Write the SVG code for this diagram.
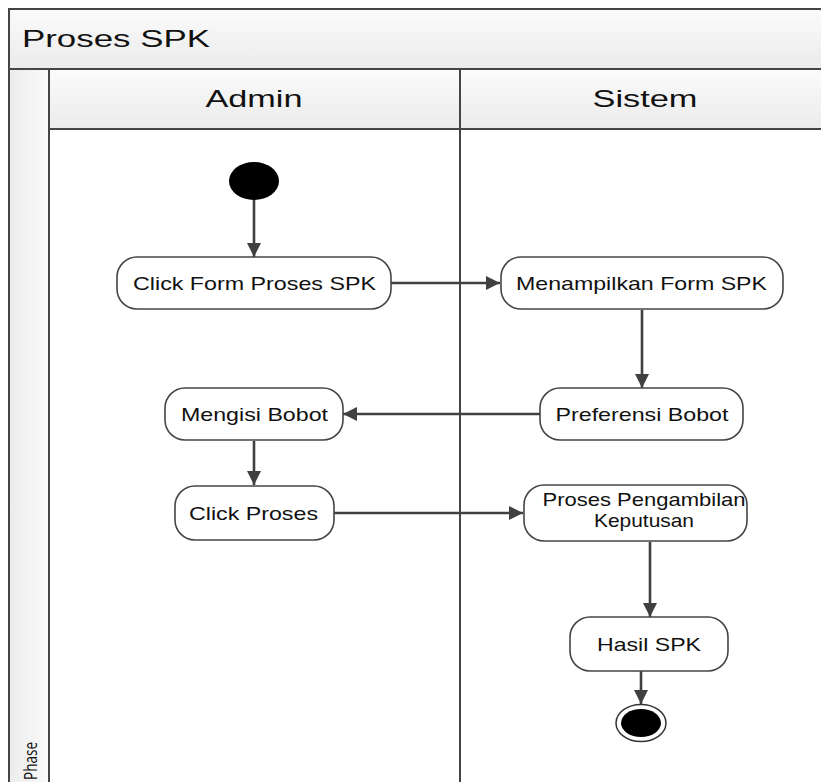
<svg xmlns="http://www.w3.org/2000/svg" width="821" height="782" viewBox="0 0 821 782">
  <defs>
    <linearGradient id="hdr" x1="0" y1="0" x2="0" y2="1">
      <stop offset="0" stop-color="#fbfbfb"/>
      <stop offset="1" stop-color="#ebebeb"/>
    </linearGradient>
    <linearGradient id="side" x1="0" y1="0" x2="1" y2="0">
      <stop offset="0" stop-color="#ececec"/>
      <stop offset="1" stop-color="#fafafa"/>
    </linearGradient>
    <marker id="arrow" viewBox="0 0 14 14" refX="14" refY="7" markerWidth="14" markerHeight="14" markerUnits="userSpaceOnUse" orient="auto">
      <path d="M0,0 L14,7 L0,14 z" fill="#404040"/>
    </marker>
  </defs>
  <style>
    .frame { stroke: #454545; stroke-width: 2; }
    .act { fill: #ffffff; stroke: #454545; stroke-width: 1.6; }
    .lbl { font-family: "Liberation Sans", Arial, sans-serif; font-size: 19px; fill: #111; text-anchor: middle; }
    .hd { font-family: "Liberation Sans", Arial, sans-serif; font-size: 24px; fill: #111; }
    .edge { fill: none; stroke: #404040; stroke-width: 2.6; marker-end: url(#arrow); }
  </style>

  <rect width="821" height="782" fill="#ffffff"/>

  <!-- swimlane pool -->
  <g id="pool">
    <rect x="9" y="9" width="830" height="60" fill="url(#hdr)" class="frame"/>
    <text x="22" y="47" class="hd" textLength="188" lengthAdjust="spacingAndGlyphs">Proses SPK</text>
    <rect x="9" y="69" width="40" height="730" fill="url(#side)" class="frame"/>
    <text transform="translate(37,780) rotate(-90)" font-family="Open Sans, sans-serif" font-size="18" fill="#111" textLength="38" lengthAdjust="spacingAndGlyphs">Phase</text>
    <rect x="49" y="69" width="411" height="60" fill="url(#hdr)" class="frame"/>
    <rect x="460" y="69" width="380" height="60" fill="url(#hdr)" class="frame"/>
    <text x="254" y="107" class="hd" text-anchor="middle" textLength="97" lengthAdjust="spacingAndGlyphs">Admin</text>
    <text x="645" y="107" class="hd" text-anchor="middle" textLength="105" lengthAdjust="spacingAndGlyphs">Sistem</text>
    <rect x="49" y="129" width="411" height="670" fill="#ffffff" class="frame"/>
    <rect x="460" y="129" width="380" height="670" fill="#ffffff" class="frame"/>
  </g>

  <!-- connectors -->
  <g id="connectors">
    <line x1="254" y1="199" x2="254" y2="257" class="edge"/>
    <line x1="391" y1="283" x2="500" y2="283" class="edge"/>
    <line x1="642" y1="310" x2="642" y2="388" class="edge"/>
    <line x1="540" y1="414" x2="343" y2="414" class="edge"/>
    <line x1="254" y1="441" x2="254" y2="485" class="edge"/>
    <line x1="334" y1="513" x2="523" y2="513" class="edge"/>
    <line x1="650" y1="542" x2="650" y2="617" class="edge"/>
    <line x1="641" y1="671" x2="641" y2="704" class="edge"/>
  </g>

  <g id="start">
    <ellipse cx="254" cy="181" rx="25" ry="19" fill="#000"/>
  </g>

  <g id="click-form">
    <rect x="117" y="257" width="274" height="52" rx="20" class="act"/>
    <text x="254.5" y="290" class="lbl" textLength="243" lengthAdjust="spacingAndGlyphs">Click Form Proses SPK</text>
  </g>

  <g id="menampilkan-form">
    <rect x="501" y="257" width="282" height="52" rx="20" class="act"/>
    <text x="641.5" y="290" class="lbl" textLength="251" lengthAdjust="spacingAndGlyphs">Menampilkan Form SPK</text>
  </g>

  <g id="preferensi-bobot">
    <rect x="540" y="388" width="203" height="52" rx="20" class="act"/>
    <text x="642" y="421" class="lbl" textLength="173" lengthAdjust="spacingAndGlyphs">Preferensi Bobot</text>
  </g>

  <g id="mengisi-bobot">
    <rect x="165" y="388" width="178" height="52" rx="20" class="act"/>
    <text x="254.5" y="421" class="lbl" textLength="147" lengthAdjust="spacingAndGlyphs">Mengisi Bobot</text>
  </g>

  <g id="click-proses">
    <rect x="175" y="486" width="159" height="54" rx="20" class="act"/>
    <text x="253.5" y="520" class="lbl" textLength="129" lengthAdjust="spacingAndGlyphs">Click Proses</text>
  </g>

  <g id="proses-pengambilan">
    <rect x="524" y="485" width="223" height="56" rx="20" class="act"/>
    <text x="644" y="506" class="lbl" textLength="203" lengthAdjust="spacingAndGlyphs">Proses Pengambilan</text>
    <text x="644" y="527" class="lbl" textLength="100" lengthAdjust="spacingAndGlyphs">Keputusan</text>
  </g>

  <g id="hasil-spk">
    <rect x="570" y="617" width="158" height="54" rx="20" class="act"/>
    <text x="649" y="651" class="lbl" textLength="104" lengthAdjust="spacingAndGlyphs">Hasil SPK</text>
  </g>

  <g id="end">
    <ellipse cx="641" cy="723" rx="25" ry="18.5" fill="#fff" stroke="#333" stroke-width="1.5"/>
    <ellipse cx="641" cy="723" rx="20" ry="14" fill="#000"/>
  </g>
</svg>
